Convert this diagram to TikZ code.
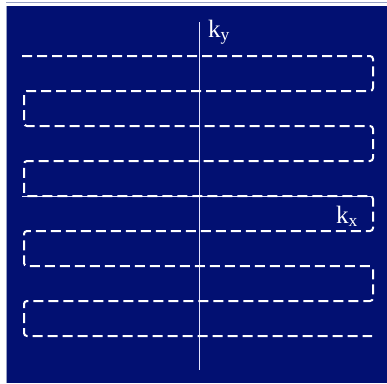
\documentclass[tikz,border=0pt]{standalone}
\usepackage{fontspec}
\setmainfont{Liberation Serif}
\usetikzlibrary{calc}
\definecolor{navy}{RGB}{2,16,114}
\definecolor{rim}{RGB}{150,160,195}

\begin{document}
\begin{tikzpicture}[x=1pt, y=-1pt,
  axis/.style={draw=white!90!blue, line width=1pt},
  scan/.style={draw=white, line width=2pt, dash pattern=on 10pt off 5pt, rounded corners=3pt},
  lbl/.style={text=white, font=\fontsize{25}{28}\selectfont, inner sep=0pt, anchor=base west}]
  \useasboundingbox (0,0) rectangle (387,383);
  % panel
  \fill[navy] (7,6) rectangle (387,383);
  \draw[rim, line width=1.5pt] (6,2.5) -- (387,2.5);
  \draw[rim, line width=0.8pt] (6.5,6) -- (6.5,383);
  % axes
  \coordinate (ky top) at (199,22);
  \coordinate (ky bot) at (199,370);
  \coordinate (kx left) at (22,196);
  \coordinate (kx right) at (372,196);
  \draw[axis] (ky top) -- (ky bot);
  \draw[axis] (kx left) -- (kx right);
  \node[lbl] (ky) at (208,37) {k\textsubscript{y}};
  \node[lbl] (kx) at (336,223) {k\textsubscript{x}};
  % raster trajectory
  \draw[scan] (22,56)
    \foreach \k in {0,2,4,6} {
      -- (373,{56+35*\k}) -- (373,{91+35*\k}) -- (24,{91+35*\k}) -- (24,{126+35*\k})
    } -- (372,336);
\end{tikzpicture}
\end{document}
